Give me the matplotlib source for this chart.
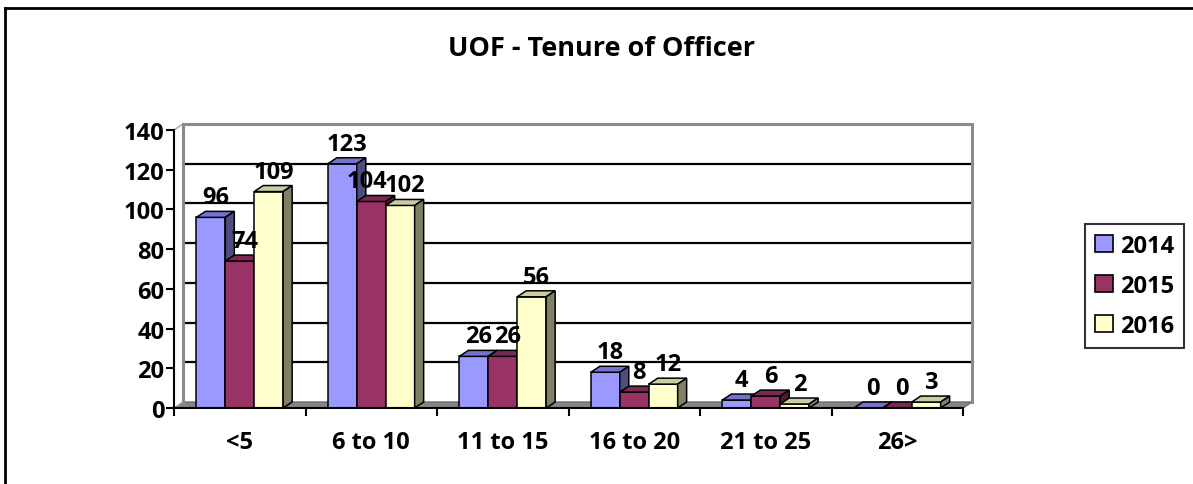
import numpy as np
import matplotlib
matplotlib.use("Agg")
import matplotlib.pyplot as plt
from matplotlib.patches import Polygon, Patch
from matplotlib.lines import Line2D

plt.rcParams['font.family'] = ['Open Sans', 'DejaVu Sans']
plt.rcParams['font.weight'] = 'bold'

# data
categories = ['<5', '6 to 10', '11 to 15', '16 to 20', '21 to 25', '26>']
years = ['2014', '2015', '2016']
v2014 = [96, 123, 26, 18, 4, 0]
v2015 = [74, 104, 26, 8, 6, 0]
v2016 = [109, 102, 56, 12, 2, 3]
series = [v2014, v2015, v2016]

front_cols = ['#9999FF', '#993366', '#FFFFCC']
top_cols = ['#7373CC', '#7A2952', '#CCCCA3']
side_cols = ['#4D4D80', '#4D1A33', '#808066']

W, H = 1193, 485
fig = plt.figure(figsize=(W / 100, H / 100), dpi=100)
fs = 17

# plot area in pixels
x0, x1 = 174, 963
y0, y1 = 409, 131
ymax = 140
ax = fig.add_axes([x0 / W, (H - y0) / H, (x1 - x0) / W, (y0 - y1) / H])
ax.set_xlim(0, len(categories))
ax.set_ylim(0, ymax)

pxx = len(categories) / (x1 - x0)   # data units per px (x)
pxy = ymax / (y0 - y1)              # data units per px (y)
dx = 9 * pxx
dy = 6 * pxy

# floor
ax.add_patch(Polygon([(0, 0), (6, 0), (6 + dx, dy), (dx, dy)], closed=True,
                     facecolor='#858585', edgecolor='#6E6E6E', lw=1, clip_on=False, zorder=1))
# left wall
ax.add_patch(Polygon([(0, 0), (dx, dy), (dx, ymax + dy), (0, ymax)], closed=True,
                     facecolor='white', edgecolor='#A0A0A0', lw=1, clip_on=False, zorder=1))
# gridlines on back wall
for v in range(20, ymax, 20):
    ax.plot([dx, 6 + dx], [v + dy, v + dy], color='black', lw=1.6, clip_on=False, zorder=2)
# back wall border
ax.plot([dx, dx, 6 + dx, 6 + dx], [dy, ymax + dy, ymax + dy, dy], color='#8A8A8A',
        lw=2.2, clip_on=False, zorder=2, solid_joinstyle='miter')

# bars
bw = 0.22
offs = [-0.33, -0.11, 0.11]
nudge = {(1, 1): -9}   # px, keeps "104" clear of "102" like the original
for i in range(len(categories)):
    c = i + 0.5
    for s, vals in enumerate(series):
        v = vals[i]
        xl = c + offs[s]
        xr = xl + bw
        z = 3 + i * 3 + s
        kw = dict(closed=True, edgecolor='black', lw=1.1, clip_on=False, zorder=z,
                  joinstyle='miter')
        ax.add_patch(Polygon([(xl, 0), (xr, 0), (xr, v), (xl, v)], facecolor=front_cols[s], **kw))
        ax.add_patch(Polygon([(xl, v), (xr, v), (xr + dx, v + dy), (xl + dx, v + dy)],
                             facecolor=top_cols[s], **kw))
        ax.add_patch(Polygon([(xr, 0), (xr + dx, dy), (xr + dx, v + dy), (xr, v)],
                             facecolor=side_cols[s], **kw))
        lx = xl + bw / 2 + (5 + nudge.get((i, s), 0)) * pxx
        ax.text(lx, v + dy + 1.0, str(v), ha='center', va='bottom',
                fontsize=fs, fontweight='bold', zorder=40, clip_on=False)

# axes styling
for sp in ['top', 'right']:
    ax.spines[sp].set_visible(False)
ax.spines['left'].set_linewidth(1.5)
ax.spines['bottom'].set_linewidth(1.5)
ax.spines['left'].set_zorder(30)
ax.spines['bottom'].set_zorder(30)
ax.set_yticks(range(0, ymax + 1, 20))
ax.tick_params(axis='y', length=6, width=1.5, pad=1, labelsize=fs)
ax.set_xticks(range(len(categories) + 1))
ax.set_xticklabels([])
ax.set_xticks(np.arange(len(categories)) + 0.5, minor=True)
ax.set_xticklabels(categories, minor=True, fontsize=fs, fontweight='bold')
ax.tick_params(axis='x', which='major', length=6, width=1.5)
ax.tick_params(axis='x', which='minor', length=0, pad=16)
for lab in ax.get_yticklabels():
    lab.set_fontweight('bold')
ax.set_facecolor('none')

# title
fig.text(602 / W, 1 - 49 / H, 'UOF - Tenure of Officer', ha='center', va='center',
         fontsize=19.5, fontweight='bold')

# legend
handles = [Patch(facecolor=front_cols[s], edgecolor='black', lw=1.2) for s in range(3)]
leg = fig.legend(handles, years, loc='upper left', bbox_to_anchor=(1085 / W, 1 - 225 / H),
                 fontsize=fs, frameon=True, fancybox=False, handlelength=0.75,
                 handleheight=0.75, handletextpad=0.3, labelspacing=0.68, borderpad=0.42,
                 borderaxespad=0)
leg.get_frame().set_edgecolor('black')
leg.get_frame().set_linewidth(1.5)
for t in leg.get_texts():
    t.set_fontweight('bold')

# outer chart border
fig.add_artist(Line2D([5 / W, 5 / W], [0, 1 - 9 / H], color='black', lw=2))
fig.add_artist(Line2D([5 / W, 1], [1 - 9 / H, 1 - 9 / H], color='black', lw=2))

fig.savefig('out.png', dpi=100)
